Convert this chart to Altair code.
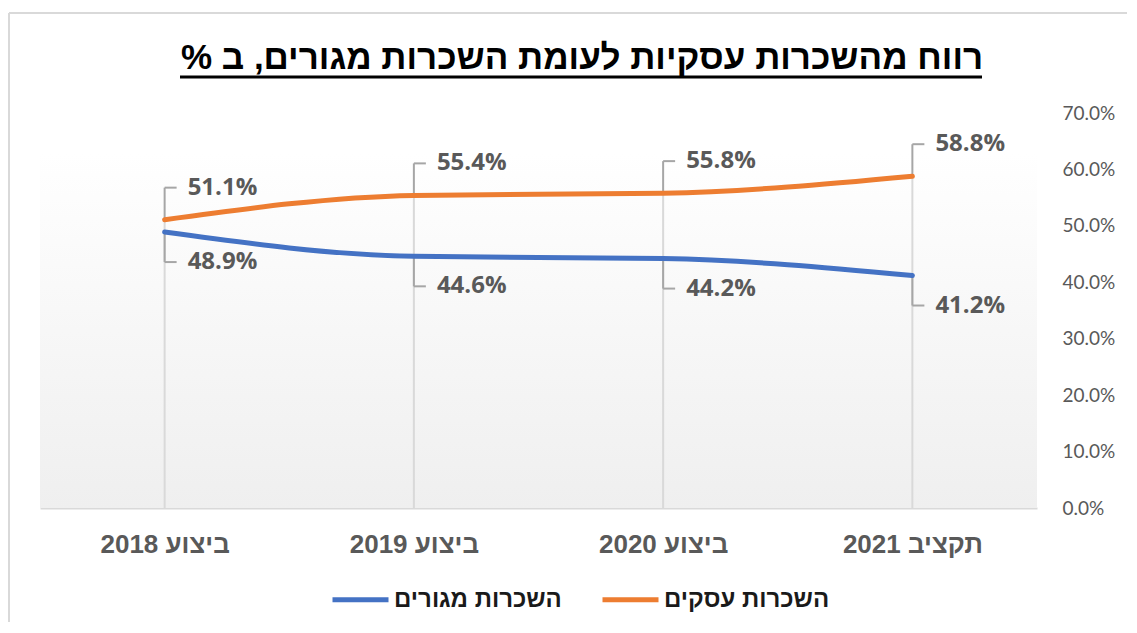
import altair as alt
import pandas as pd

categories = ["ביצוע 2018", "ביצוע 2019", "ביצוע 2020", "תקציב 2021"]
business = [51.1, 55.4, 55.8, 58.8]
residential = [48.9, 44.6, 44.2, 41.2]
series_names = ["השכרות מגורים", "השכרות עסקים"]
series_colors = ["#4472C4", "#ED7D31"]
y_ticks = [0, 10, 20, 30, 40, 50, 60, 70]
title_text = "רווח מהשכרות עסקיות לעומת השכרות מגורים, ב %\u200f"

W, H = 997, 395

rows = []
for c, b, r in zip(categories, business, residential):
    rows.append({"cat": c, "series": series_names[1], "v": b})
    rows.append({"cat": c, "series": series_names[0], "v": r})
df = pd.DataFrame(rows)
drop_df = pd.DataFrame({"cat": categories,
                        "v": [max(b, r) for b, r in zip(business, residential)],
                        "zero": [0] * len(categories)})
one = pd.DataFrame({"k": [0]})

xscale = alt.Scale(type="point", padding=0.5)
xaxis = alt.Axis(title=None, labelAngle=0, ticks=False,
                 domainColor="#d9d9d9", domainWidth=2,
                 labelFont="Liberation Sans", labelFontSize=26,
                 labelFontWeight="bold", labelColor="#595959",
                 labelPadding=23)
yscale = alt.Scale(domain=[0, 70])
yaxis = alt.Axis(orient="right", values=y_ticks, title=None,
                 labelExpr="format(datum.value, '.1f') + '%'",
                 domain=False, ticks=False, grid=False,
                 labelFont="Lato", labelFontSize=19,
                 labelColor="#595959", labelPadding=25)


def X():
    return alt.X("cat:N", sort=categories, scale=xscale, axis=xaxis)


def Y():
    return alt.Y("v:Q", scale=yscale, axis=yaxis)


bg = alt.Chart(one).mark_rect(
    fill=alt.LinearGradient(gradient="linear", x1=0, x2=0, y1=0, y2=1,
                            stops=[alt.GradientStop(color="#ffffff", offset=0.1),
                                   alt.GradientStop(color="#efefef", offset=1)])
).encode(x=alt.value(0), x2=alt.value(W), y=alt.value(0), y2=alt.value(H))

drops = alt.Chart(drop_df).mark_rule(color="#d9d9d9", strokeWidth=2).encode(
    x=X(), y=Y(), y2="zero:Q")

leader_color = "#a6a6a6"
up = df[df.series == series_names[1]]
down = df[df.series == series_names[0]]


def leaders(d, off):
    base = alt.Chart(d)
    vert = base.mark_rule(color=leader_color, strokeWidth=2, y2Offset=off).encode(
        x=X(), y=Y(), y2="v:Q")
    hor = base.mark_rule(color=leader_color, strokeWidth=2, yOffset=off, x2Offset=12).encode(
        x=X(), x2="cat:N", y=Y())
    txt = base.transform_calculate(lab="format(datum.v, '.1f') + '%'").mark_text(
        align="left", baseline="middle", dx=23, dy=off, font="Open Sans",
        fontWeight="bold", fontSize=24, color="#595959").encode(
        x=X(), y=Y(), text="lab:N")
    return vert + hor + txt


lines = alt.Chart(df).mark_line(interpolate="monotone", strokeWidth=5, strokeCap="round").encode(
    x=X(), y=Y(),
    color=alt.Color("series:N",
                    scale=alt.Scale(domain=series_names, range=series_colors),
                    legend=alt.Legend(orient="none", legendX=290, legendY=456,
                                      direction="horizontal", title=None,
                                      symbolType="stroke", symbolSize=3136,
                                      symbolStrokeWidth=5, labelFont="Liberation Sans",
                                      labelFontSize=24, labelFontWeight="bold",
                                      labelColor="#1a1a1a", columnPadding=30,
                                      labelOffset=3, labelLimit=0)))

title = alt.Chart(one).mark_text(text=title_text, font="Liberation Sans", fontSize=35,
                                 fontWeight="bold", color="#000000", align="center",
                                 baseline="middle").encode(
    x=alt.value(542), y=alt.value(-55))
underline = alt.Chart(one).mark_rule(color="#000000", strokeWidth=3).encode(
    x=alt.value(140), x2=alt.value(942), y=alt.value(-36))

border_l = alt.Chart(one).mark_rule(color="#d9d9d9", strokeWidth=2).encode(
    x=alt.value(-31), y=alt.value(-100), y2=alt.value(520))
border_t = alt.Chart(one).mark_rule(color="#d9d9d9", strokeWidth=2).encode(
    x=alt.value(-31), x2=alt.value(1100), y=alt.value(-100))

chart = alt.layer(bg, drops, leaders(up, -32), leaders(down, 30), lines,
                  title, underline, border_l, border_t).properties(
    width=W, height=H,
    autosize=alt.AutoSizeParams(type="none"),
    padding={"left": 32, "top": 105, "right": 90, "bottom": 114},
    background="#ffffff"
).configure_view(stroke=None)

chart.save("out.html", embed_options={"renderer": "svg", "actions": False})
